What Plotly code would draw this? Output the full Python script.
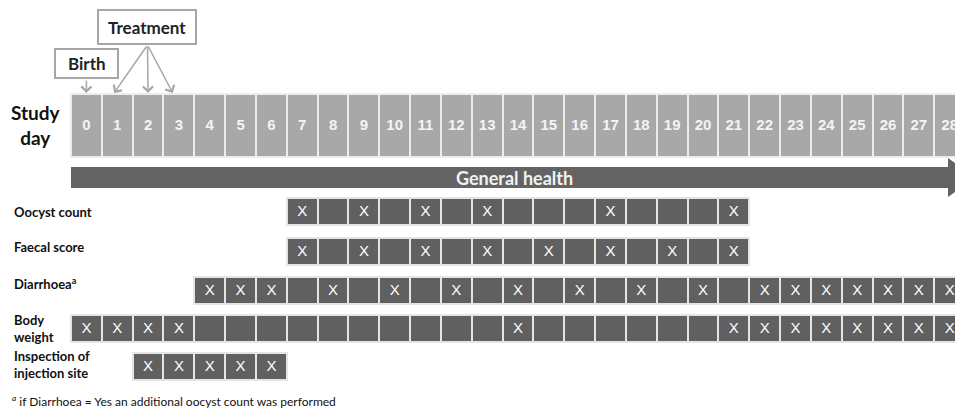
import plotly.graph_objects as go

# ---------------- data ----------------
study_days = list(range(0, 29))
row_labels = ["Oocyst count", "Faecal score", "Diarrhoea<sup>a</sup>",
              "Body<br>weight", "Inspection of<br>injection site"]
oocyst_days = list(range(7, 22))
oocyst_marked = [7, 9, 11, 13, 17, 21]
faecal_days = list(range(7, 22))
faecal_marked = [7, 9, 11, 13, 15, 17, 19, 21]
diarrhoea_days = list(range(4, 29))
diarrhoea_marked = [4, 5, 6, 8, 10, 12, 14, 16, 18, 20, 22, 23, 24, 25, 26, 27, 28]
body_days = list(range(0, 29))
body_marked = [0, 1, 2, 3, 14, 21, 22, 23, 24, 25, 26, 27, 28]
inspect_days = list(range(2, 7))
inspect_marked = [2, 3, 4, 5, 6]
birth_day = [0]
treatment_days = [1, 2, 3]
footnote = "<sup><i>a</i></sup> if Diarrhoea = Yes an additional oocyst count was performed"

# ---------------- layout helpers ----------------
W, H = 955, 410
X0, CW = 71, 30.83          # pixel of day-0 left edge, cell width


def px2x(p):
    return -0.5 + (p - X0) / CW


LIGHT = "#A8A8A8"
DARK = "#606060"
BOXLINE = "#A6A6A6"
FONT_B = "Lato"

fig = go.Figure()

# top "Study day" cells
fig.add_trace(go.Bar(x=study_days, y=[63] * len(study_days), base=[94] * len(study_days),
                     width=1, marker=dict(color=LIGHT, line=dict(color="#ECECEC", width=2)),
                     hoverinfo="skip", showlegend=False))
fig.add_trace(go.Scatter(x=study_days, y=[126] * len(study_days), mode="text",
                         text=[str(d) for d in study_days],
                         textfont=dict(family="Liberation Sans", size=15, color="#F4F4F4",
                                       weight="bold"),
                         hoverinfo="skip", showlegend=False))

rows = [(oocyst_days, oocyst_marked), (faecal_days, faecal_marked),
        (diarrhoea_days, diarrhoea_marked), (body_days, body_marked),
        (inspect_days, inspect_marked)]
row_tops = [198, 238, 277, 315, 353]
ROWH = 27
for (days, marked), top in zip(rows, row_tops):
    fig.add_trace(go.Bar(x=days, y=[ROWH] * len(days), base=[top] * len(days), width=1,
                         marker=dict(color=DARK, line=dict(color="#E4E4E4", width=2)),
                         hoverinfo="skip", showlegend=False))
    fig.add_trace(go.Scatter(x=marked, y=[top + ROWH / 2 + 0.5] * len(marked), mode="text",
                             text=["X"] * len(marked),
                             textfont=dict(family="Liberation Sans", size=15, color="white"),
                             hoverinfo="skip", showlegend=False))

shapes = []
annotations = []

# General health arrow
x_start = min(study_days) - 0.5
x_head = px2x(948)
x_tip = px2x(975)
shapes.append(dict(type="rect", xref="x", yref="y", x0=x_start, x1=x_head, y0=167, y1=188,
                   fillcolor="#636363", line=dict(width=0), layer="above"))
shapes.append(dict(type="path", xref="x", yref="y",
                   path=f"M {x_head},158 L {x_tip},177.5 L {x_head},197 Z",
                   fillcolor="#636363", line=dict(width=0), layer="above"))
annotations.append(dict(x=px2x(514), y=177.5, xref="x", yref="y",
                        text="<b>General health</b>", showarrow=False,
                        font=dict(family=FONT_B, size=18, color="#F2F2F2")))

# Birth / Treatment boxes
shapes.append(dict(type="rect", xref="x", yref="y", x0=px2x(55), x1=px2x(118), y0=49, y1=78,
                   fillcolor="white", line=dict(color=BOXLINE, width=2)))
shapes.append(dict(type="rect", xref="x", yref="y", x0=px2x(98), x1=px2x(196), y0=10, y1=44,
                   fillcolor="white", line=dict(color=BOXLINE, width=2)))
annotations.append(dict(x=px2x(86.5), y=63.5, xref="x", yref="y", text="<b>Birth</b>",
                        showarrow=False, font=dict(family=FONT_B, size=17, color="#222")))
annotations.append(dict(x=px2x(147), y=27, xref="x", yref="y", text="<b>Treatment</b>",
                        showarrow=False, font=dict(family=FONT_B, size=17, color="#222")))

# arrows
for d in birth_day:
    annotations.append(dict(x=d, y=93, xref="x", yref="y", ax=d, ay=79, axref="x", ayref="y",
                            text="", showarrow=True, arrowhead=4, arrowsize=1.3, arrowwidth=1.5,
                            arrowcolor=BOXLINE))
tips = {1: -0.1, 2: 0.0, 3: -0.2}
for d in treatment_days:
    annotations.append(dict(x=d + tips[d], y=93, xref="x", yref="y", ax=px2x(147.5), ay=45,
                            axref="x", ayref="y", text="", showarrow=True, arrowhead=4,
                            arrowsize=1.3, arrowwidth=1.5, arrowcolor=BOXLINE))

# left labels
annotations.append(dict(x=36 / W, y=125, xref="paper", yref="y", text="<b>Study<br>day</b>",
                        showarrow=False, align="center", xanchor="center",
                        font=dict(family=FONT_B, size=19, color="#111")))
label_y = [212, 247, 283, 328, 364]
for lab, ly in zip(row_labels, label_y):
    annotations.append(dict(x=12 / W, y=ly, xref="paper", yref="y", text=f"<b>{lab}</b>",
                            showarrow=False, xanchor="left", align="left",
                            font=dict(family=FONT_B, size=13, color="#111")))
annotations.append(dict(x=10 / W, y=401, xref="paper", yref="y", text=footnote,
                        showarrow=False, xanchor="left",
                        font=dict(family=FONT_B, size=12, color="#111")))

fig.update_layout(
    width=W, height=H, margin=dict(l=0, r=0, t=0, b=0),
    paper_bgcolor="white", plot_bgcolor="white",
    barmode="overlay", bargap=0,
    xaxis=dict(range=[px2x(0), px2x(W)], visible=False, fixedrange=True),
    yaxis=dict(range=[H, 0], visible=False, fixedrange=True),
    shapes=shapes, annotations=annotations,
)

fig.write_html("out.html", config={"displayModeBar": False},
               post_script="document.body.style.margin='0px';"
               "document.body.style.overflow='hidden';")
